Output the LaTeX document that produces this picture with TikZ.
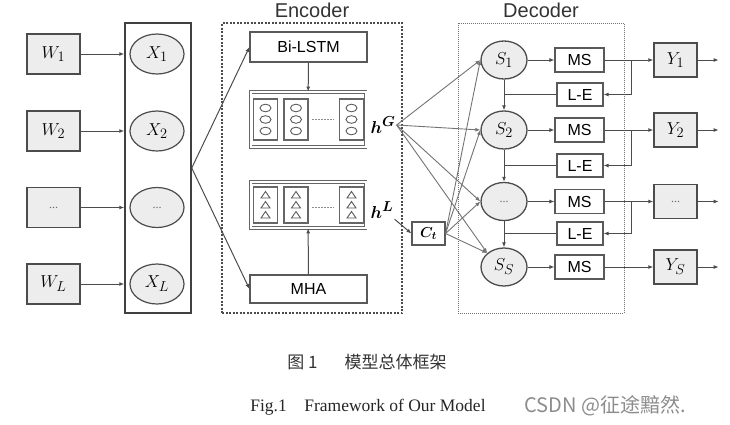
\documentclass[tikz,border=0pt]{standalone}
\usepackage{amsmath}
\usepackage{fontspec}
\setmainfont{Liberation Serif}
\setsansfont{Liberation Sans}
\newfontfamily\cjk{Noto Sans CJK SC}
\usetikzlibrary{arrows.meta, positioning, shapes, calc, fit}

\begin{document}
\begin{tikzpicture}[x=1pt, y=-1pt,
  wbox/.style={rectangle, draw=black!70, fill=black!7, line width=1.3pt,
    minimum width=53pt, minimum height=40pt, font=\fontsize{19}{21}\selectfont},
  xell/.style={ellipse, draw=black!70, fill=black!7, line width=1.2pt,
    minimum width=54pt, minimum height=40pt, inner sep=0pt, font=\fontsize{19}{21}\selectfont},
  ebox/.style={rectangle, draw=black!65, line width=1.1pt, minimum width=117pt,
    font=\sffamily\fontsize{16}{18}\selectfont},
  hbox/.style={rectangle, draw=black!60, double, double distance=2pt, line width=0.7pt,
    minimum width=115pt},
  snode/.style={ellipse, draw=black!70, fill=black!7, line width=1.3pt,
    minimum width=46pt, minimum height=38pt, inner sep=0pt, font=\fontsize{19}{21}\selectfont},
  msbox/.style={rectangle, draw=black!65, line width=1.1pt, minimum width=49pt,
    minimum height=24pt, inner sep=0pt, font=\sffamily\fontsize{16}{18}\selectfont},
  ybox/.style={rectangle, draw=black!70, fill=black!7, line width=1.3pt,
    minimum width=43pt, minimum height=34pt, font=\fontsize{19}{21}\selectfont},
  lbl/.style={font=\sffamily\fontsize{20}{22}\selectfont, text=black!80},
  arr/.style={-{Latex[length=5pt,width=4pt]}, line width=1pt, draw=black!70},
  link/.style={line width=1pt, draw=black!70},
  dots/.style={font=\fontsize{12}{14}\selectfont, text=black!60}
]
\useasboundingbox (0,0) rectangle (730,424);

% inputs and embeddings
\node[wbox] (w1) at (53.5,54) {$W_1$};
\node[wbox] (w2) at (53.5,131) {$W_2$};
\node[wbox, dots] (w3) at (53.5,207.5) {...};
\node[wbox] (wl) at (53.5,284) {$W_L$};
\node[draw=black!75, line width=1.5pt, minimum width=66pt, minimum height=290pt] (xcol) at (158,168) {};
\node[xell] (x1) at (157,54) {$X_1$};
\node[xell] (x2) at (157,131) {$X_2$};
\node[xell, dots] (x3) at (157,207.5) {...};
\node[xell] (xl) at (157,284) {$X_L$};
\foreach \n in {1,2,3,l}
  \draw[arr] (w\n) -- (w\n -| xcol.west);

% encoder
\node[draw=black!70, line width=1.2pt, dash pattern=on 2pt off 1.5pt,
  minimum width=180pt, minimum height=290pt] (enc) at (312,168) {};
\node[lbl, above=1pt of enc] {Encoder};
\node[ebox, minimum height=30pt] (bilstm) at (308.5,47) {Bi-LSTM};
\node[hbox, minimum height=55pt] (hgbox) at (308,119.5) {};
\node[hbox, minimum height=46pt] (hlbox) at (308,205) {};
\node[ebox, minimum height=28pt] (mha) at (308.5,289) {MHA};
\foreach \cx in {265.5,296,351.5} {
  \draw[black!60, line width=1.1pt] (\cx-12,99) rectangle (\cx+12,140);
  \draw[black!60, line width=1.1pt] (\cx-12,187) rectangle (\cx+12,223);
  \foreach \cy in {108,119.5,131}
    \draw[black!65, line width=0.9pt] (\cx,\cy) ellipse (5.5pt and 3.8pt);
  \foreach \cy in {195,205,215}
    \draw[black!65, line width=0.9pt] (\cx-4.5,\cy+3) -- (\cx+4.5,\cy+3) -- (\cx,\cy-3.5) -- cycle;
}
\draw[black!45, line width=1pt, dash pattern=on 1.5pt off 1.5pt] (312,119.5) -- (334,119.5);
\draw[black!45, line width=1pt, dash pattern=on 1.5pt off 1.5pt] (312,207) -- (334,207);
\draw[arr] (bilstm) -- (hgbox);
\draw[arr] (mha) -- (hlbox);
\draw[arr] (xcol.east) -- (bilstm.west);
\draw[arr] (xcol.east) -- (mha.west);
\node[font=\fontsize{19}{21}\selectfont, inner sep=1pt] (hg) at (383,125) {$\boldsymbol{h^G}$};
\node[font=\fontsize{19}{21}\selectfont, inner sep=1pt] (hl) at (382,210) {$\boldsymbol{h^L}$};
\node[msbox, minimum width=33pt, minimum height=23pt, font=\fontsize{15}{17}\selectfont]
  (ct) at (428.5,233.5) {$\boldsymbol{C_t}$};
\draw[arr] (hl.south east) -- (ct.west);

% decoder
\node[draw=black!55, line width=1pt, dash pattern=on 1pt off 1pt,
  minimum width=166pt, minimum height=290pt] (dec) at (541,168) {};
\node[lbl, above=1pt of dec] {Decoder};
\node[snode] (s1) at (504,60) {$S_1$};
\node[snode] (s2) at (504,130) {$S_2$};
\node[snode, dots] (s3) at (504,201.5) {...};
\node[snode] (ss) at (504,267) {$S_S$};
\node[msbox] (ms1) at (579.5,60) {MS};
\node[msbox] (ms2) at (579.5,130) {MS};
\node[msbox] (ms3) at (579.5,201.5) {MS};
\node[msbox] (ms4) at (579.5,267) {MS};
\node[msbox, minimum width=46pt, minimum height=23pt] (le1) at (580,94.5) {L-E};
\node[msbox, minimum width=46pt, minimum height=23pt] (le2) at (580,165.5) {L-E};
\node[msbox, minimum width=46pt, minimum height=23pt] (le3) at (580,233.5) {L-E};
\node[ybox] (y1) at (675.5,60) {$Y_1$};
\node[ybox] (y2) at (675.5,130) {$Y_2$};
\node[ybox, dots] (y3) at (675.5,201.5) {...};
\node[ybox] (ys) at (675.5,267) {$Y_S$};

\draw[arr] (s1) -- (s2);
\draw[arr] (s2) -- (s3);
\draw[arr] (s3) -- (ss);
\foreach \s/\m/\y in {s1/ms1/y1, s2/ms2/y2, s3/ms3/y3, ss/ms4/ys} {
  \draw[arr] (\s) -- (\m);
  \draw[arr] (\m) -- (\y);
  \draw[arr] (\y.east) -- ++(21,0);
}
\foreach \m/\y/\l/\s in {ms1/y1/le1/s1, ms2/y2/le2/s2, ms3/y3/le3/s3} {
  \draw[arr] ($(\m.east)!.55!(\y.west)$) |- (\l.east);
  \draw[link] (\l.west) -- (\l.west -| \s.south);
}

% attention links
\foreach \s in {s1.west, s2.west, s3.west, ss.north west}
  \draw[arr, draw=black!55, line width=0.9pt] (hg.east) -- (\s);
\foreach \s in {s1.west, s2.west, s3.west, ss.north west}
  \draw[arr, draw=black!55, line width=0.9pt] (ct.east) -- (\s);

% captions
\node[font=\cjk\fontsize{17}{19}\selectfont, text=black!80] (cap1) at (367,362)
  {图 1\hspace{1.6em}模型总体框架};
\node[font=\fontsize{17.5}{19}\selectfont, text=black!85] (cap2) at (368,407)
  {Fig.1\hspace{1em}Framework of Our Model};
\node[font=\cjk\fontsize{20}{22}\selectfont, text=black!45, anchor=west] (mark) at (521,406)
  {CSDN @征途黯然.};
\end{tikzpicture}
\end{document}
